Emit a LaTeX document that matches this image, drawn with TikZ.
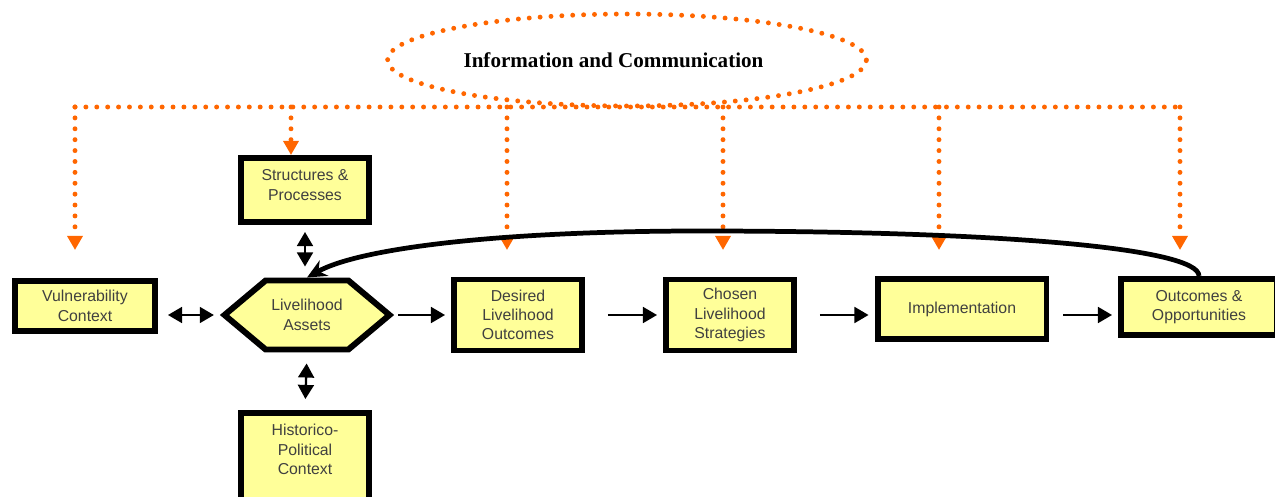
\documentclass[tikz,border=0pt]{standalone}
\usepackage{fontspec}
\setsansfont{Liberation Sans}
\newfontfamily\titlefont{Liberation Serif}
\usetikzlibrary{arrows.meta,shapes.geometric,shapes.symbols}
\definecolor{boxyellow}{HTML}{FFFF99}
\definecolor{infoorange}{HTML}{FF6600}
\tikzset{
  boxtext/.style={font=\sffamily\fontsize{9}{11}\selectfont, text=black!75, align=center, inner sep=0pt},
  stage/.style={boxtext, draw=black, fill=boxyellow, line width=3.4pt},
  assetshape/.style={stage, signal, signal to=east and west, signal pointer angle=80},
  infoellipse/.style={ellipse, draw=infoorange, line width=2.8pt, line cap=round, dash pattern=on 0pt off 6.2pt,
    font=\titlefont\bfseries\fontsize{12}{14}\selectfont, minimum width=9.56cm, minimum height=1.84cm},
  flow/.style={line width=1.3pt, -{Triangle[width=9pt,length=8pt]}},
  twoway/.style={line width=1.3pt, {Triangle[width=9pt,length=8pt]}-{Triangle[width=9pt,length=8pt]}},
  infoline/.style={draw=infoorange, line width=2.8pt, line cap=round, dash pattern=on 0pt off 6.2pt},
  infodrop/.style={infoline, -{Triangle[width=8.5pt,length=8pt,fill=infoorange]}},
  feedback/.style={line width=2.7pt, -{Stealth[length=11pt,width=10pt]}},
}

\begin{document}
\begin{tikzpicture}[x=0.02cm,y=-0.02cm]
\useasboundingbox (0,0) rectangle (1275,497);
\clip (0,0) rectangle (1275,497);
% boxes
\node[stage, minimum width=2.80cm, minimum height=1.00cm] (vuln) at (85,306) {Vulnerability\\Context};
\node[assetshape, minimum width=3.30cm, minimum height=1.38cm] (assets) at (307,315) {Livelihood\\Assets};
\node[stage, minimum width=2.56cm, minimum height=1.28cm, text depth=0.2cm] (struct) at (305,190) {Structures \&\\Processes};
\node[stage, minimum width=2.56cm, minimum height=2.4cm, anchor=north,
  label={[boxtext, anchor=north, yshift=-0.28cm]north:{Historico-\\Political\\Context}}] (hist) at (305,410) {};
\node[stage, minimum width=2.56cm, minimum height=1.42cm] (desired) at (518,315) {Desired\\Livelihood\\Outcomes};
\node[stage, minimum width=2.56cm, minimum height=1.42cm] (chosen) at (730,315) {Chosen\\Livelihood\\Strategies};
\node[stage, minimum width=3.38cm, minimum height=1.20cm] (impl) at (962,309) {Implementation};
\node[stage, minimum width=3.12cm, minimum height=1.12cm] (outc) at (1199,307) {Outcomes \&\\Opportunities};
% information and communication
\node[infoellipse] (info) at (627,60) {Information and Communication\hspace*{0.54cm}};
\coordinate (infoL) at (75,107);
\coordinate (infoR) at (1180,107);
\draw[infoline] (infoL) -- (infoR);
\foreach \x in {75,507,723,939,1180}
  \draw[infodrop] (\x,107) -- (\x,250);
\draw[infodrop] (291,107) -- (291,155);
% flows
\draw[twoway, shorten <=0.2cm, shorten >=0.12cm] (vuln.east |- assets.west) -- (assets.west);
\draw[flow, shorten <=0.08cm, shorten >=0.12cm] (assets.east) -- (desired.west);
\draw[flow, shorten <=0.46cm, shorten >=0.12cm] (desired.east) -- (chosen.west);
\draw[flow, shorten <=0.46cm, shorten >=0.12cm] (chosen.east) -- (chosen.east -| impl.west);
\draw[flow, shorten <=0.28cm, shorten >=0.12cm] (impl.east |- chosen.east) -- (outc.west |- chosen.east);
\draw[twoway, shorten <=0.14cm, shorten >=0.22cm] (struct.south) -- (struct.south |- assets.north);
\draw[twoway, shorten <=0.22cm, shorten >=0.22cm] (assets.south) -- (hist.north);
\draw[feedback] (outc.north) .. controls +(0,-28) and (1000,231) .. (700,231)
  .. controls (500,231) and (360,248) .. (assets.north);
\end{tikzpicture}
\end{document}
